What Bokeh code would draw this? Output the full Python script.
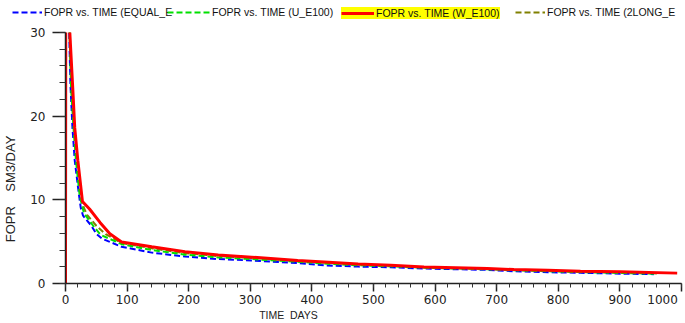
from bokeh.plotting import figure
from bokeh.models import (Range1d, SingleIntervalTicker, FixedTicker, LinearAxis,
                          Legend, LegendItem)
from bokeh.layouts import column
from bokeh.embed import file_html
from bokeh.resources import INLINE

# ---- data ----
t_equal = [2, 6, 8, 11.3, 15, 21.5, 24.8, 28.5, 42, 50, 59, 91, 140, 194, 248, 302, 377,
           420, 475, 528, 582, 685, 728, 783, 836, 901, 955]
v_equal = [45, 30, 23.8, 18.6, 14.7, 10.8, 9.05, 8.1, 6.9, 5.95, 5.37, 4.39, 3.69, 3.22, 2.92,
           2.75, 2.45, 2.17, 2.02, 1.94, 1.79, 1.63, 1.47, 1.35, 1.28, 1.17, 1.12]

t_u = [2, 6.5, 9, 13, 17, 23, 28, 30, 45, 55, 59, 91, 140, 194, 248, 302, 377,
       420, 475, 528, 582, 685, 728, 783, 836, 901, 955]
v_u = [50, 30, 23.5, 18.6, 14.7, 10.5, 9.0, 8.4, 6.9, 6.0, 5.75, 4.7, 4.0, 3.45, 3.12,
       2.92, 2.6, 2.38, 2.18, 2.05, 1.88, 1.70, 1.57, 1.46, 1.36, 1.26, 1.18]

t_w = [0, 1, 7, 12, 15, 20, 27.5, 39, 56, 72, 91, 140, 194, 248, 302, 377,
       420, 475, 528, 582, 685, 728, 783, 836, 901, 993]
v_w = [0, 80, 30, 23, 18.6, 14.7, 9.8, 8.9, 7.3, 5.95, 4.97, 4.39, 3.8, 3.42, 3.15, 2.75,
       2.57, 2.33, 2.17, 1.98, 1.79, 1.67, 1.59, 1.47, 1.40, 1.24]

t_long = [2, 7, 10, 14, 18, 25, 29, 35, 50, 65, 91, 140, 194, 248, 302, 377,
          420, 475, 528, 582, 685, 728, 783, 836, 901, 960]
v_long = [50, 30, 23, 18.4, 14.6, 10.1, 9.2, 8.2, 6.9, 5.9, 4.85, 4.2, 3.62, 3.28, 3.05, 2.68,
          2.47, 2.26, 2.10, 1.94, 1.75, 1.63, 1.54, 1.43, 1.34, 1.20]

series_t = [t_equal, t_u, t_w, t_long]
series_v = [v_equal, v_u, v_w, v_long]
labels = ["FOPR vs. TIME (EQUAL_E", "FOPR vs. TIME (U_E100)",
          "FOPR vs. TIME (W_E100)", "FOPR vs. TIME (2LONG_E"]
y_title = "FOPR\u00a0\u00a0\u00a0\u00a0SM3/DAY"
y_title_pos = 11.3
x_title = "TIME\u00a0\u00a0DAYS"
x_title_pos = 362

styles = [
    dict(line_color="#0000ff", line_width=2, line_dash="6 3"),
    dict(line_color="#00e000", line_width=2, line_dash="6 3"),
    dict(line_color="#ff0000", line_width=3),
    dict(line_color="#808000", line_width=2, line_dash="6 3"),
]

# ---- main figure ----
p = figure(width=685, height=297, x_range=Range1d(0, 1000), y_range=Range1d(0, 30),
           output_backend="svg", toolbar_location=None,
           min_border_left=63, min_border_right=4, min_border_top=6, min_border_bottom=34)
p.frame_align = False
p.outline_line_color = None
p.xgrid.visible = False
p.ygrid.visible = False

for i in (3, 0, 1, 2):
    p.line(series_t[i], series_v[i], **styles[i])

xa = p.xaxis[0]
xa.ticker = SingleIntervalTicker(interval=100, num_minor_ticks=5)
xa.major_tick_out = 8
xa.major_tick_in = 0
xa.minor_tick_out = 4
xa.minor_tick_in = 0
xa.major_label_standoff = 1
xa.major_label_overrides = {1000: "1000" + "\u00a0" * 2}
ya = p.yaxis[0]
ya.ticker = SingleIntervalTicker(interval=10, num_minor_ticks=5)
ya.major_tick_out = 13
ya.major_tick_in = 0
ya.minor_tick_out = 6
ya.minor_tick_in = 0
ya.major_label_standoff = 7
for ax in (xa, ya):
    ax.axis_line_color = "#222222"
    ax.axis_line_width = 1.5
    ax.major_tick_line_color = "#222222"
    ax.major_tick_line_width = 1.5
    ax.minor_tick_line_color = "#333333"
    ax.major_label_text_font = "DejaVu Sans"
    ax.major_label_text_font_size = "12px"
    ax.major_label_text_color = "#222222"

# axis titles placed as single labels (the reference places them off-centre)
xt = LinearAxis(ticker=FixedTicker(ticks=[x_title_pos], minor_ticks=[]),
                major_label_overrides={x_title_pos: x_title})
xt.major_label_standoff = -1
xt.major_label_text_font_size = "10.5px"
yt = LinearAxis(ticker=FixedTicker(ticks=[y_title_pos], minor_ticks=[]),
                major_label_overrides={y_title_pos: y_title},
                major_label_orientation="vertical")
yt.major_label_standoff = 9
yt.major_label_text_font_size = "13px"
for ax in (xt, yt):
    ax.axis_line_color = None
    ax.major_tick_line_color = None
    ax.minor_tick_line_color = None
    ax.major_tick_out = 0
    ax.major_tick_in = 0
    ax.major_label_text_font = "Liberation Sans"
    ax.major_label_text_color = "#222222"
p.add_layout(xt, "below")
p.add_layout(yt, "left")

# ---- legend strip ----
lf = figure(width=685, height=26, x_range=Range1d(0, 1000), y_range=Range1d(1000, 1026),
            output_backend="svg", toolbar_location=None, min_border=0,
            x_axis_type=None, y_axis_type=None)
lf.frame_align = False
lf.outline_line_color = None
lf.grid.visible = False

legend_renderers = [lf.line(series_t[i], series_v[i], **styles[i]) for i in range(4)]

def add_legend(r, label, x, y, glyph_w=30, pad=0, bg=None):
    lg = Legend(items=[LegendItem(label=label, renderers=[r])], location=(x, y),
                orientation="horizontal", padding=pad, margin=0, spacing=0,
                glyph_width=glyph_w, glyph_height=12, label_height=12, label_width=10,
                label_standoff=2, border_line_color=None,
                label_text_font="Liberation Sans", label_text_font_size="10.5px",
                label_text_color="#111111")
    if bg is None:
        lg.background_fill_alpha = 0
    else:
        lg.background_fill_color = bg
        lg.background_fill_alpha = 1
    lf.add_layout(lg)

add_legend(legend_renderers[0], labels[0], 12, 8)
add_legend(legend_renderers[1], labels[1], 167, 8, glyph_w=43)
add_legend(legend_renderers[2], labels[2], 341, 7, glyph_w=33, pad=4, bg="#ffff00")
add_legend(legend_renderers[3], labels[3], 515, 8)

layout = column(lf, p, spacing=0)
open("out.html", "w").write(file_html(layout, INLINE))
